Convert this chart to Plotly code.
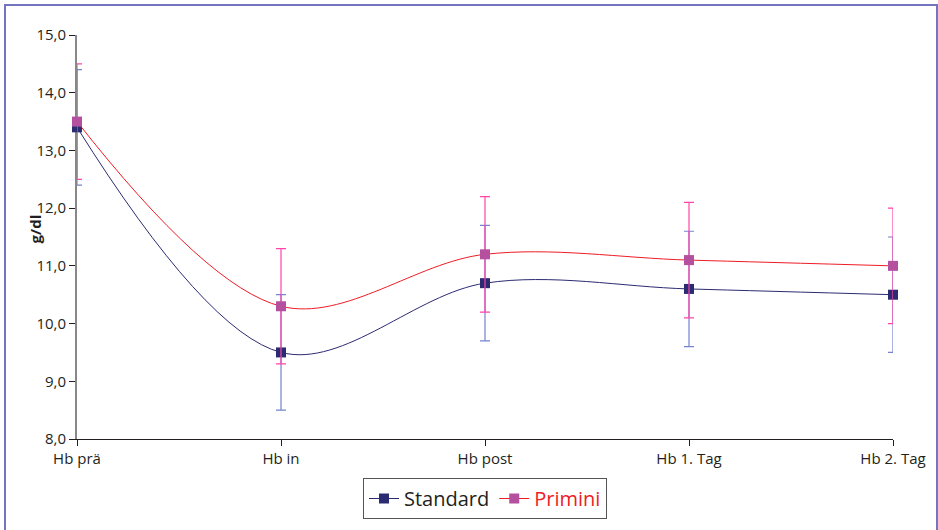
import plotly.graph_objects as go

categories = ["Hb prä", "Hb in", "Hb post", "Hb 1. Tag", "Hb 2. Tag"]
standard = [13.4, 9.5, 10.7, 10.6, 10.5]
standard_err = [1.0, 1.0, 1.0, 1.0, 1.0]
primini = [13.5, 10.3, 11.2, 11.1, 11.0]
primini_err = [1.0, 1.0, 1.0, 1.0, 1.0]
y_ticks = [8, 9, 10, 11, 12, 13, 14, 15]
y_ticklabels = ["8,0", "9,0", "10,0", "11,0", "12,0", "13,0", "14,0", "15,0"]

FONT = "Open Sans"
W, H = 938, 530
L, R, T, B = 77, 45, 35, 90
pw, ph = W - L - R, H - T - B

fig = go.Figure()
fig.add_trace(go.Scatter(
    x=categories, y=standard, name="Standard",
    mode="lines+markers",
    line=dict(color="#2b2b72", width=1, shape="spline", smoothing=1),
    marker=dict(symbol="square", size=10, color="#2b2b72"),
    error_y=dict(type="data", array=standard_err, color="#7484d0", thickness=1.2, width=5),
    cliponaxis=False,
))
fig.add_trace(go.Scatter(
    x=categories, y=primini, name="<span style='color:#ee1c25'>Primini</span>",
    mode="lines+markers",
    line=dict(color="#ee1c25", width=1, shape="spline", smoothing=1),
    marker=dict(symbol="square", size=10, color="#b4509e"),
    error_y=dict(type="data", array=primini_err, color="#ff44aa", thickness=1.2, width=5),
    cliponaxis=False,
))

def px_x(p):
    return (p - L) / pw

def px_y(p):
    return (H - B - p) / ph

fig.update_layout(
    width=W, height=H,
    margin=dict(l=L, r=R, t=T, b=B),
    paper_bgcolor="white", plot_bgcolor="white",
    font=dict(family=FONT, size=15, color="#231f20"),
    showlegend=True,
    legend=dict(
        orientation="h", x=0.5, xanchor="center", y=px_y(478), yanchor="top",
        bordercolor="#555555", borderwidth=1, bgcolor="white",
        font=dict(size=20, color="#231f20", family=FONT),
        tracegroupgap=0,
    ),
    xaxis=dict(
        type="category", range=[0, 4],
        showline=True, linecolor="#231f20", linewidth=1,
        ticks="outside", ticklen=6, tickcolor="#231f20",
        showgrid=False, zeroline=False, layer="below traces",
        tickfont=dict(size=15, family=FONT),
    ),
    yaxis=dict(
        range=[8, 15], tickvals=y_ticks, ticktext=y_ticklabels,
        showline=True, linecolor="#888888", linewidth=2,
        ticks="outside", ticklen=6, tickcolor="#231f20",
        showgrid=False, zeroline=False, layer="below traces",
        tickfont=dict(size=15, family=FONT),
    ),
    annotations=[dict(
        text="<b>g/dl</b>", xref="paper", yref="paper",
        x=px_x(35), y=px_y(230), xanchor="center", yanchor="middle",
        textangle=-90, showarrow=False, font=dict(size=15, family=FONT),
    )],
    shapes=[dict(
        type="rect", xref="paper", yref="paper",
        x0=px_x(5), x1=px_x(937), y0=px_y(5), y1=px_y(540),
        line=dict(color="#7474c0", width=2), fillcolor="rgba(0,0,0,0)",
        layer="below",
    )],
)

fig.write_html(
    "out.html",
    config={"displayModeBar": False},
    post_script="document.body.style.margin='0px';document.body.style.overflow='hidden';",
)
